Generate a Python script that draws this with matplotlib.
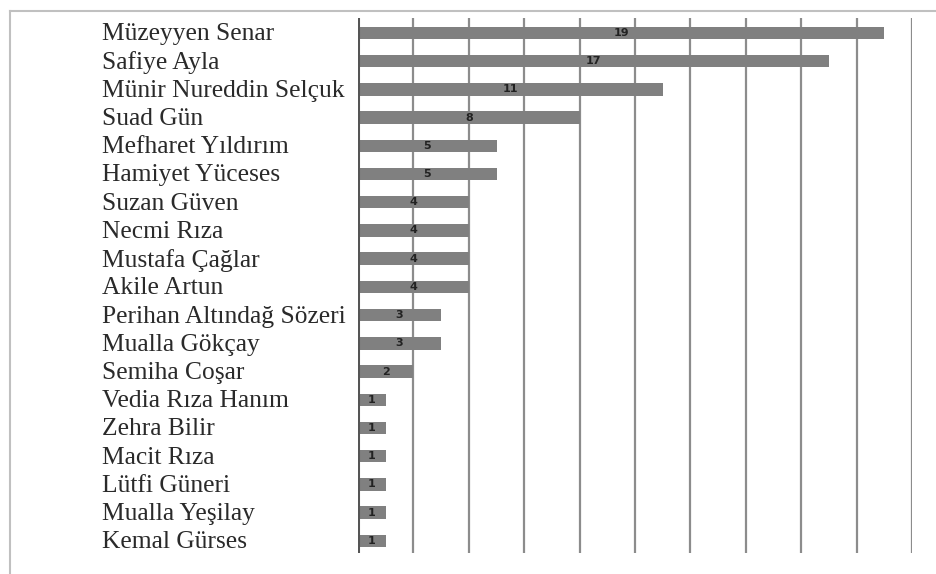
import matplotlib.pyplot as plt
from matplotlib.lines import Line2D
from matplotlib.transforms import blended_transform_factory

# names top to bottom and their counts
names = ['Müzeyyen Senar', 'Safiye Ayla', 'Münir Nureddin Selçuk', 'Suad Gün',
         'Mefharet Yıldırım', 'Hamiyet Yüceses', 'Suzan Güven', 'Necmi Rıza',
         'Mustafa Çağlar', 'Akile Artun', 'Perihan Altındağ Sözeri',
         'Mualla Gökçay', 'Semiha Coşar', 'Vedia Rıza Hanım', 'Zehra Bilir',
         'Macit Rıza', 'Lütfi Güneri', 'Mualla Yeşilay', 'Kemal Gürses']
counts = [19, 17, 11, 8, 5, 5, 4, 4, 4, 4, 3, 3, 2, 1, 1, 1, 1, 1, 1]
x_ticks = list(range(0, 21, 2))

W, H = 936, 574
fig = plt.figure(figsize=(W / 100, H / 100), dpi=100)
ax = fig.add_axes([358 / W, 21 / H, (912 - 358) / W, (553 - 18) / H])

ypos = list(range(len(names)))
ax.barh(ypos, counts, height=0.44, color='#808080', zorder=3)

# value labels centred on each bar
for y, v in zip(ypos, counts):
    ax.text(v / 2, y, str(v), ha='center', va='center', fontsize=8,
            fontweight='bold', color='#222222', zorder=4)

ax.set_xlim(0, 20)
ax.set_ylim(len(names) - 1 + 0.43, -0.53)

# vertical grid lines
for x in x_ticks[1:]:
    ax.axvline(x, color='#8c8c8c', linewidth=1.6, zorder=1)
ax.axvline(0, color='#555555', linewidth=2.2, zorder=5)

ax.set_xticks([])
ax.set_yticks([])
for s in ax.spines.values():
    s.set_visible(False)

# category labels, left aligned at a fixed figure position
trans = blended_transform_factory(fig.transFigure, ax.transData)
for y, n in zip(ypos, names):
    ax.text(102 / W, y + 0.05, n, transform=trans, ha='left', va='center',
            fontsize=18.4, family='Liberation Serif', color='#2a2a2a',
            clip_on=False)

# outer frame (top and left edges only)
fig.add_artist(Line2D([10 / W, 1], [1 - 11 / H, 1 - 11 / H], transform=fig.transFigure,
                      color='#c0c0c0', linewidth=1.5))
fig.add_artist(Line2D([10 / W, 10 / W], [0, 1 - 11 / H], transform=fig.transFigure,
                      color='#c0c0c0', linewidth=1.5))

fig.savefig('out.png', dpi=100)
